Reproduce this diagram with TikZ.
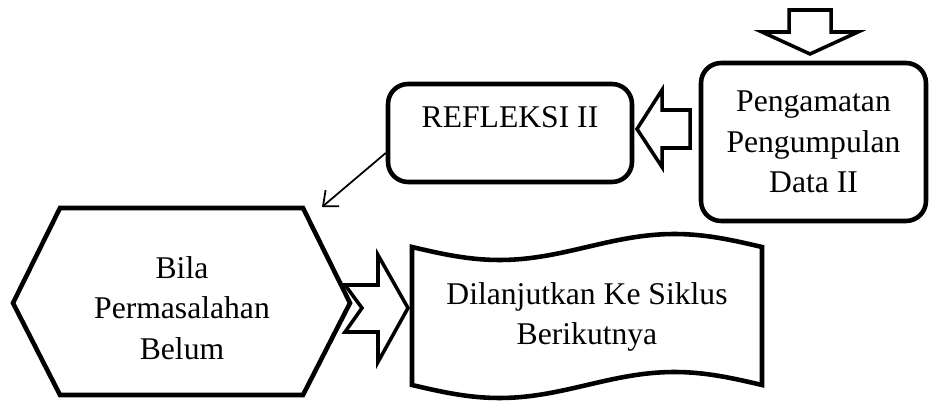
\documentclass[tikz,border=0pt]{standalone}
\usepackage{fontspec}
\setmainfont{Liberation Serif}
\usetikzlibrary{arrows.meta}

\newcommand*{\xmax}{929}
\newcommand*{\ymax}{401}

\begin{document}
\begin{tikzpicture}
[
	x=0.02cm,
	y=-0.02cm,
	box/.style={draw,line width=2.6pt,rounded corners=0.4cm,inner sep=0pt},
	shapeline/.style={line width=2.6pt,line join=miter},
	hollow/.style={draw,line width=2pt,fill=white,line join=miter},
	txt/.style={align=center,font=\fontsize{18}{23.2}\selectfont,inner sep=0pt},
	thinarrow/.style={line width=1pt,-{Straight Barb[length=7pt,width=12pt]}}
]
	\useasboundingbox (0,0) rectangle (\xmax,\ymax);

	% arrow coming in from above
	\draw[hollow] (789,10) -- (831,10) -- (831,32) -- (858,32) -- (810,54) -- (762,32) -- (789,32) -- cycle;

	% Pengamatan
	\node[box,txt,minimum width=4.5cm,minimum height=3.16cm] (amat) at (813.5,142) {Pengamatan\\Pengumpulan\\Data II};

	% refleksi
	\node[box,minimum width=4.88cm,minimum height=1.96cm] (refl) at (510,133) {};
	\node[txt] (refltxt) at (510,117) {REFLEKSI II};

	% arrow between them
	\draw[hollow] (690,110) -- (662,110) -- (662,90) -- (637,129) -- (662,167) -- (662,148) -- (690,148) -- cycle;

	% hexagon
	\draw[shapeline] (60,208) -- (303,208) -- (350,303) -- (303,395) -- (60,395) -- (13,303) -- cycle;
	\node[txt] (bila) at (182,308) {Bila\\Permasalahan\\Belum};

	% notched arrow
	\draw[hollow] (345,285) -- (378,285) -- (378,255) -- (408,308) -- (378,362) -- (378,332) -- (345,332) -- (362,308) -- cycle;

	% wave
	\draw[shapeline]
	  (412,247) sin (499.5,260) cos (587,247) sin (674.5,234) cos (762,247)
	  -- (762,385) sin (674.5,372) cos (587,385) sin (499.5,398) cos (412,385)
	  -- cycle;
	\node[txt] (lanjut) at (587,317) {Dilanjutkan Ke Siklus\\Berikutnya};

	% thin arrow
	\coordinate (hexnote) at (322,207);
	\draw[thinarrow] ([yshift=-0.4cm]refl.west) -- (hexnote);

\end{tikzpicture}
\end{document}
